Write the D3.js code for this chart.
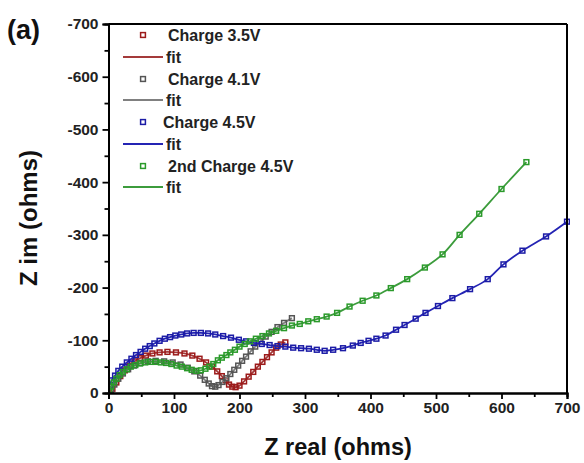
<!DOCTYPE html>
<html><head><meta charset="utf-8">
<script src="https://cdn.jsdelivr.net/npm/d3@7"></script>
<style>
body{margin:0;background:#fff;}
svg{display:block;font-family:"Liberation Sans",Arial,sans-serif;}
</style></head>
<body><svg id="c" width="584" height="463"></svg>
<script>
// ---- data (Z real, Z im in ohms) ----
const xTicks = [0,100,200,300,400,500,600,700];
const yTicks = [0,-100,-200,-300,-400,-500,-600,-700];

const redX = [6,12,18,25,32,40,48,57,67,78,90,103,116,128,139,149,158,166,173,179,184,189,194,200,207,214,221,228,235,242,249,256,263,270];
const redY = [-8,-20,-32,-43,-52,-60,-66,-71,-75,-77,-78,-77,-75,-71,-65,-58,-50,-41,-32,-24,-16,-12,-11,-14,-22,-31,-40,-50,-59,-68,-77,-86,-92,-96];

const grayX = [4,9,15,22,30,39,49,60,72,85,98,110,121,131,140,147,153,158,163,168,174,180,186,192,198,204,210,217,224,232,240,249,258,268,280];
const grayY = [-6,-16,-27,-37,-45,-52,-57,-60,-61,-60,-58,-54,-48,-41,-33,-25,-18,-13,-12,-15,-21,-28,-36,-44,-52,-61,-69,-79,-88,-98,-107,-116,-125,-133,-142];

const blueX = [1,5,10,15,21,28,35,42,49,56,63,70,78,86,94,102,111,120,130,141,152,163,175,187,199,210,222,234,246,258,270,282,294,306,318,330,343,358,373,385,397,409,423,439,452,469,484,503,525,552,579,603,632,668,700];
const blueY = [-14,-24,-33,-42,-50,-58,-65,-72,-78,-84,-89,-94,-99,-103,-106,-109,-111,-113,-114,-114,-113,-111,-108,-105,-101,-98,-95,-93,-91,-89,-88,-86,-85,-84,-82,-80,-82,-85,-90,-95,-99,-103,-109,-120,-129,-141,-152,-165,-180,-197,-216,-244,-270,-297,-325];

const greenX = [1,4,8,12,17,22,28,34,41,48,56,64,72,80,88,96,104,112,120,127,134,141,148,154,160,167,173,180,186,193,200,208,216,225,235,245,256,268,280,292,305,318,333,349,368,388,409,431,456,483,510,536,566,600,638];
const greenY = [-4,-12,-20,-27,-34,-40,-45,-50,-53,-56,-58,-59,-59,-58,-57,-55,-52,-50,-47,-44,-42,-43,-46,-50,-55,-62,-67,-72,-77,-82,-88,-93,-98,-103,-108,-113,-118,-123,-128,-131,-136,-140,-145,-152,-164,-175,-185,-199,-216,-238,-263,-300,-340,-387,-438];

const seriesNames = ["Charge 3.5V","Charge 4.1V","Charge 4.5V","2nd Charge 4.5V"];
const markerColors = ["#9c1a1a","#555555","#1c1ca6","#2a9a2a"];
const lineColors = ["#a43a3a","#808080","#2424b4","#3c9c3c"];

// ---- layout ----
const svg = d3.select("#c");
const x = d3.scaleLinear().domain([0,700]).range([108.5,567]);
const y = d3.scaleLinear().domain([0,-700]).range([393,24]);

const series = [
  {x:redX,y:redY},{x:grayX,y:grayY},{x:blueX,y:blueY},{x:greenX,y:greenY}
];

svg.append("clipPath").attr("id","pc").append("rect")
  .attr("x",x(0)).attr("y",y(-700)).attr("width",x(700)-x(0)+3).attr("height",y(0)-y(-700));

const plot = svg.append("g").attr("clip-path","url(#pc)");
const line = d3.line().x(d=>x(d[0])).y(d=>y(d[1])).curve(d3.curveCatmullRom);

series.forEach((s,i)=>{
  const pts = s.x.map((v,j)=>[v,s.y[j]]);
  plot.append("path").datum(pts).attr("d",line)
    .attr("fill","none").attr("stroke",lineColors[i]).attr("stroke-width",1.8);
  plot.selectAll(null).data(pts).enter().append("rect")
    .attr("x",d=>x(d[0])-2.4).attr("y",d=>y(d[1])-2.4)
    .attr("width",4.8).attr("height",4.8)
    .attr("fill","none").attr("stroke",markerColors[i]).attr("stroke-width",1.5);
});

// ---- axes ----
const axisStyle = g=>{
  g.selectAll(".domain").attr("stroke","#000").attr("stroke-width",2);
  g.selectAll(".tick line").attr("stroke","#000").attr("stroke-width",1.8);
  g.selectAll("text").attr("font-size",15.5).attr("font-weight","bold").attr("fill","#222")
   .attr("font-family","'Liberation Sans',Arial,sans-serif");
};
svg.append("g").attr("transform",`translate(0,${y(0)})`)
  .call(d3.axisBottom(x).tickValues(d3.range(50,700,100)).tickSize(4).tickFormat(""))
  .call(axisStyle);
svg.append("g").attr("transform",`translate(${x(0)},0)`)
  .call(d3.axisLeft(y).tickValues(d3.range(-50,-700,-100)).tickSize(4).tickFormat(""))
  .call(axisStyle);
svg.append("g").attr("transform",`translate(0,${y(0)})`)
  .call(d3.axisBottom(x).tickValues(xTicks).tickSize(6).tickPadding(3).tickFormat(d3.format("d")))
  .call(axisStyle);
svg.append("g").attr("transform",`translate(${x(0)},0)`)
  .call(d3.axisLeft(y).tickValues(yTicks).tickSize(6).tickPadding(4).tickFormat(d=>d===0?"0":String(d)))
  .call(axisStyle);
// frame top/right
svg.append("line").attr("x1",x(0)).attr("x2",x(700)).attr("y1",y(-700)).attr("y2",y(-700))
  .attr("stroke","#000").attr("stroke-width",2);
svg.append("line").attr("x1",x(700)).attr("x2",x(700)).attr("y1",y(-700)).attr("y2",y(0))
  .attr("stroke","#000").attr("stroke-width",2);

// ---- titles ----
svg.append("text").attr("x",338).attr("y",455).attr("text-anchor","middle")
  .attr("font-size",23.5).attr("font-weight","bold").attr("fill","#111").text("Z real (ohms)");
svg.append("text").attr("transform","translate(37,218) rotate(-90)").attr("text-anchor","middle")
  .attr("font-size",24).attr("font-weight","bold").attr("fill","#111").text("Z im (ohms)");
svg.append("text").attr("x",7).attr("y",39)
  .attr("font-size",27).attr("font-weight","bold").attr("fill","#111").text("(a)");

// ---- legend ----
const lg = svg.append("g");
const rowY = [35,57,79,100,122,144,166,187];
seriesNames.forEach((n,i)=>{
  const ym = rowY[2*i], yl = rowY[2*i+1];
  lg.append("rect").attr("x",143-2.4).attr("y",ym-2.4).attr("width",4.8).attr("height",4.8)
    .attr("fill","none").attr("stroke",markerColors[i]).attr("stroke-width",1.5);
  lg.append("text").attr("x",i===2?163:168).attr("y",ym+5.5).attr("font-size",16).attr("font-weight","bold")
    .attr("fill","#222").text(n);
  lg.append("line").attr("x1",123).attr("x2",163).attr("y1",yl).attr("y2",yl)
    .attr("stroke",lineColors[i]).attr("stroke-width",2);
  lg.append("text").attr("x",166).attr("y",yl+5.5).attr("font-size",16).attr("font-weight","bold")
    .attr("fill","#222").text("fit");
});
</script></body></html>
